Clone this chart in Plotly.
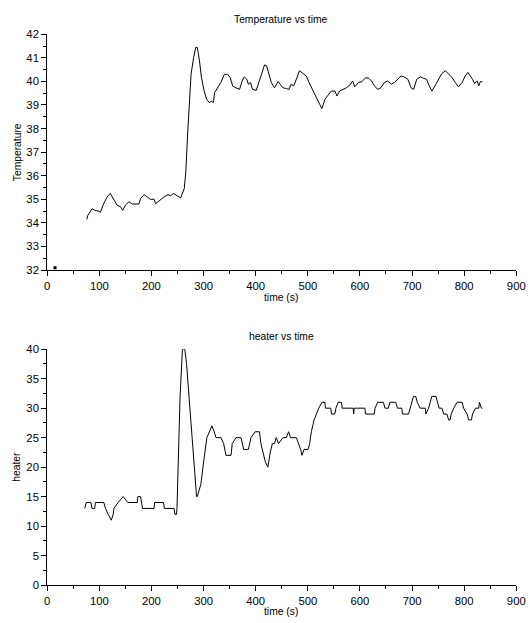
import plotly.graph_objects as go

# temperature readings (s, degC)
temp_time = [76, 78, 86, 92, 99, 102, 108, 115, 121, 128, 134, 141, 145, 150, 157, 163,
             176, 179, 186, 192, 198, 205, 208, 213, 218, 224, 232, 237, 242, 250, 256,
             263, 266, 269, 272, 276, 281, 285, 288, 292, 296, 301, 306, 311, 315, 319,
             321, 327, 333, 340, 346, 351, 356, 362, 369, 374, 378, 383, 386, 390, 394,
             401, 407, 412, 417, 421, 425, 430, 436, 443, 447, 452, 459, 464, 468, 473,
             478, 484, 491, 497, 504, 510, 516, 523, 527, 533, 539, 545, 552, 556, 561,
             568, 574, 581, 586, 590, 597, 604, 611, 617, 622, 628, 634, 640, 647, 653,
             660, 666, 673, 679, 685, 692, 698, 703, 709, 716, 722, 728, 733, 738, 744,
             751, 757, 764, 770, 777, 783, 789, 796, 802, 807, 812, 816, 820, 825, 828,
             831, 835]
temp_vals = [34.15, 34.32, 34.6, 34.53, 34.5, 34.45, 34.8, 35.1, 35.25, 34.96, 34.75, 34.68,
             34.53, 34.75, 34.9, 34.8, 34.8, 35.03, 35.2, 35.1, 35.0, 35.0, 34.82, 34.9,
             35.0, 35.1, 35.2, 35.15, 35.25, 35.15, 35.06, 35.46, 36.17, 37.6, 39.0, 40.3,
             41.02, 41.44, 41.44, 40.9, 40.16, 39.6, 39.24, 39.1, 39.16, 39.1, 39.52, 39.73,
             39.95, 40.3, 40.3, 40.16, 39.8, 39.73, 39.66, 40.02, 40.19, 40.09, 39.88, 39.95,
             39.66, 39.62, 40.02, 40.45, 40.7, 40.66, 40.38, 39.95, 39.73, 39.99, 39.88,
             39.73, 39.7, 39.66, 39.88, 39.81, 40.09, 40.45, 40.33, 40.23, 39.88, 39.59,
             39.31, 39.02, 38.85, 39.24, 39.42, 39.59, 39.59, 39.38, 39.59, 39.66, 39.73,
             39.85, 40.02, 39.77, 39.95, 39.99, 40.16, 40.13, 40.02, 39.81, 39.66, 39.73,
             39.95, 40.02, 39.88, 39.95, 40.09, 40.23, 40.19, 40.09, 39.73, 39.66, 40.09,
             40.19, 40.13, 40.09, 39.81, 39.59, 39.81, 40.09, 40.33, 40.45, 40.3, 40.16,
             39.95, 39.77, 39.95, 40.23, 40.38, 40.23, 40.09, 39.91, 40.02, 39.81, 39.99,
             39.99]

# stray point near the origin
dot_time = [15]
dot_vals = [32.1]

# heater command (s, %)
heat_time = [72, 75, 84, 86, 91, 92.5, 108.6, 111.8, 117, 123, 126.6, 128, 136, 145.8,
             154.8, 172.8, 174, 179, 183, 205, 206, 223, 225, 243.4, 245, 248, 249, 251.8,
             254.9, 259.5, 264, 267.3, 271.9, 278.3, 283.5, 286.6, 288, 294.8, 301.3, 306.4,
             312.2, 316, 320.5, 323.8, 333.4, 338.5, 343, 352.7, 355, 362.3, 371.9, 374, 377,
             386, 388, 391, 398.9, 407.3, 410, 413.7, 418.2, 423.4, 425, 428, 432, 436, 439.4,
             443.9, 452.3, 458.7, 463, 467, 478, 482.4, 486.3, 488.9, 492.8, 500.5, 503.6,
             506.8, 512, 516.5, 521, 527.4, 532.6, 534, 544, 545.4, 551.8, 554, 558.3, 564.6,
             566, 587, 588, 589, 609.6, 610.6, 627.6, 629, 634, 645, 648, 654.5, 657.6,
             668.7, 672, 680.3, 681.6, 693.2, 696, 699.6, 702.8, 707, 710, 715.6, 725.3,
             726.6, 731.7, 734.9, 738, 745.8, 749, 752, 757.4, 760.7, 767, 770.2, 773, 775,
             780, 786.3, 796, 799, 805.5, 808.8, 814, 816, 821.6, 828, 829.3, 833, 835]
heat_vals = [13, 14, 14, 13, 13, 14, 14, 13, 12, 11, 12, 13, 14, 15,
             14, 14, 15, 15, 13, 13, 14, 14, 13, 13, 12, 12, 13, 22.2,
             31.9, 40, 40, 37.6, 31.9, 24.5, 18.8, 15, 15, 17.1, 21.7, 25,
             26.2, 27, 26, 25, 25, 24, 22, 22, 24, 25, 25, 24, 23,
             23, 24, 25, 26, 26, 24, 22.5, 21, 20, 21, 22.5, 24, 24, 25,
             24, 25, 25, 26, 25, 25, 24, 23, 22, 23, 23, 24,
             26, 28, 29, 30, 31, 31, 30, 30, 29, 29, 30, 31, 31,
             30, 30, 29, 30, 30, 29, 29, 30, 31, 31, 30, 30, 31,
             31, 30, 30, 29, 29, 30, 31, 32, 32, 31, 30, 30,
             29, 30, 31, 32, 32, 31, 30, 30, 29, 29, 28, 28, 29,
             30, 31, 31, 30, 29, 28, 28, 29, 30, 30, 31, 30, 30]

font = "Liberation Sans, Arial, sans-serif"
W, H = 530, 623


# the page comes out slightly shrunk and shifted, so map target pixels back
def px_x(p):
    return (p - 3) / 0.973 / W


def px_y(p):
    return 1 - (p - 9) / 0.973 / H


fig = go.Figure()
fig.add_trace(go.Scatter(x=temp_time, y=temp_vals, mode="lines",
                         line=dict(color="black", width=1), xaxis="x", yaxis="y"))
fig.add_trace(go.Scatter(x=dot_time, y=dot_vals, mode="markers",
                         marker=dict(color="black", size=3, symbol="square"),
                         xaxis="x", yaxis="y"))
fig.add_trace(go.Scatter(x=heat_time, y=heat_vals, mode="lines",
                         line=dict(color="black", width=1), xaxis="x2", yaxis="y2"))

axis_common = dict(showline=True, linecolor="black", linewidth=1, mirror=False,
                   showgrid=False, zeroline=False, ticks="outside", ticklen=5,
                   tickcolor="black", tickfont=dict(family=font, size=11.3, color="black"))
minor = dict(ticklen=3, ticks="outside", tickcolor="black")

xdom = [px_x(47), px_x(514)]
fig.update_layout(
    width=W, height=H,
    margin=dict(l=0, r=0, t=0, b=0),
    paper_bgcolor="white", plot_bgcolor="white",
    showlegend=False,
    xaxis=dict(domain=xdom, range=[0, 900], dtick=100, anchor="y", ticklabeloverflow="allow",
               minor=dict(dtick=50, **minor), **axis_common),
    yaxis=dict(domain=[px_y(271), px_y(37)], range=[32, 42], dtick=1, anchor="x",
               minor=dict(dtick=0.5, **minor), **axis_common),
    xaxis2=dict(domain=xdom, range=[0, 900], dtick=100, anchor="y2", ticklabeloverflow="allow",
                minor=dict(dtick=50, **minor), **axis_common),
    yaxis2=dict(domain=[px_y(583.5), px_y(349.5)], range=[0, 40], dtick=5, anchor="x2",
                minor=dict(dtick=2.5, **minor), **axis_common),
)

# titles and axis labels
labels = [
    ("Temperature vs time", 280, 22, 0),
    ("time (s)", 280, 298, 0),
    ("Temperature", 17, 154, -90),
    ("heater vs time", 280, 337, 0),
    ("time (s)", 280, 610, 0),
    ("heater", 17, 466, -90),
]
for text, x, y, ang in labels:
    fig.add_annotation(text=text, x=px_x(x), y=px_y(y), xref="paper", yref="paper",
                       showarrow=False, textangle=ang, xanchor="center", yanchor="middle",
                       font=dict(family=font, size=10.3, color="black"))

fig.write_html("out.html", config={"displayModeBar": False},
               post_script="document.body.style.margin = '0px'; document.body.style.overflow = 'hidden';")
